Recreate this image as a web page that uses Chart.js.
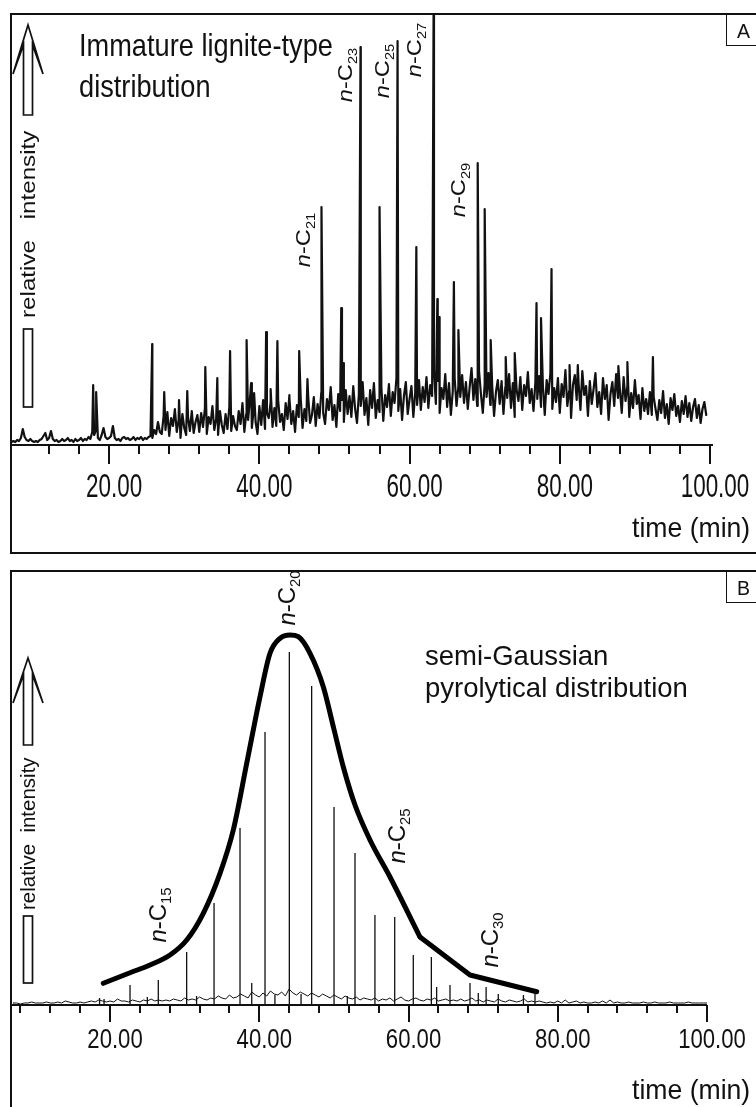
<!DOCTYPE html>
<html>
<head>
<meta charset="utf-8">
<script src="https://cdn.jsdelivr.net/npm/chart.js@4.4.1/dist/chart.umd.min.js"></script>
<style>
    html, body { margin: 0; padding: 0; background: #fff; }
    body { width: 756px; height: 1107px; position: relative; overflow: hidden; }
    canvas { position: absolute; left: 0; }
    #chartA { top: 0; }
    #chartB { top: 560px; }
    .frame { position: absolute; border: 2px solid #111; box-sizing: border-box; }
</style>
</head>
<body>
<canvas id="chartA" width="756" height="560"></canvas>
<canvas id="chartB" width="756" height="547"></canvas>
<div class="frame" style="left:10px; top:13px; width:770px; height:541px;"></div>
<div class="frame" style="left:10px; top:570px; width:770px; height:600px;"></div>

<script>
// ---- panel A: immature lignite-type distribution ----
const timeStartA = 7.0;
const timeStepA = 0.25;
const traceA = [
    2, 3, 2, 4, 3, 6, 15, 7, 4, 3, 5, 3, 2, 3, 2, 4, 5, 8, 11, 4,
    6, 13, 5, 3, 4, 2, 3, 5, 3, 4, 6, 3, 4, 2, 5, 3, 4, 6, 3, 5,
    4, 7, 5, 12, 9, 14, 6, 4, 9, 16, 7, 5, 6, 8, 18, 6, 4, 5, 3, 6,
    7, 5, 6, 4, 5, 7, 4, 6, 5, 7, 4, 6, 5, 7, 8, 6, 14, 10, 22, 12,
    10, 28, 14, 32, 8, 26, 18, 35, 12, 24, 6, 30, 16, 9, 27, 13, 33, 11, 22, 29,
    12, 31, 17, 36, 10, 27, 20, 38, 14, 25, 9, 33, 19, 11, 30, 15, 37, 13, 28, 18,
    14, 33, 20, 41, 12, 30, 24, 46, 16, 35, 22, 10, 38, 19, 44, 15, 31, 26, 42, 17,
    36, 18, 44, 22, 30, 14, 41, 25, 49, 20, 33, 12, 39, 27, 46, 16, 35, 23, 48, 21,
    29, 47, 18, 40, 26, 52, 31, 20, 45, 34, 57, 24, 39, 17, 50, 33, 44, 22, 54, 30,
    48, 27, 58, 35, 21, 50, 38, 62, 29, 46, 19, 54, 36, 61, 26, 44, 32, 56, 23, 49,
    37, 60, 28, 52, 41, 66, 33, 55, 24, 48, 62, 30, 45, 58, 27, 51, 39, 64, 34, 57,
    42, 67, 36, 59, 48, 74, 40, 63, 31, 56, 45, 70, 37, 61, 29, 53, 66, 38, 58, 47,
    69, 41, 62, 35, 57, 76, 44, 65, 38, 73, 50, 31, 60, 47, 71, 39, 58, 28, 52, 64,
    40, 63, 30, 57, 46, 70, 36, 61, 27, 54, 43, 67, 34, 59, 48, 72, 41, 55, 33, 62,
    45, 68, 37, 58, 29, 64, 50, 71, 35, 56, 42, 66, 31, 60, 47, 74, 38, 53, 26, 59,
    69, 44, 61, 34, 73, 49, 58, 28, 63, 40, 55, 71, 37, 52, 30, 66, 45, 59, 24, 50,
    62, 38, 70, 46, 55, 31, 67, 43, 58, 27, 51, 36, 64, 40, 49, 25, 56, 33, 45, 30,
    52, 29, 47, 35, 24, 44, 31, 53, 26, 40, 20, 46, 34, 50, 28, 38, 22, 43, 30, 48,
    27, 41, 23, 37, 45, 26, 39, 21, 35, 42, 29
];
const peakTimesA = [17.87, 18.27, 25.73, 27.33, 29.3, 30.4, 32.8, 34.4, 36.1, 38.3, 38.9, 39.3,
    40.9, 41.5, 42.4, 44.0, 45.3, 46.4, 48.27, 50.9, 51.2, 53.47, 56.0, 58.4, 60.9, 63.2, 63.7,
    63.95, 65.9, 66.5, 69.07, 70.0, 70.8, 72.8, 74.0, 76.9, 77.5, 78.9, 81.3, 82.4, 87.8, 89.0, 92.4];
const peakHeightsA = [59, 52, 100, 52, 44, 53, 77, 66, 93, 104, 61, 51,
    112, 55, 103, 46, 93, 65, 237, 136, 81, 397, 237, 403, 197, 440, 145,
    127, 162, 114, 281, 235, 104, 87, 91, 141, 126, 175, 79, 79, 78, 82, 87];
const majorTicksA = [20, 40, 60, 80, 100];
const minorTicksA = [12, 16, 24, 28, 32, 36, 44, 48, 52, 56, 64, 68, 72, 76, 84, 88, 92, 96];

// ---- panel B: semi-Gaussian pyrolytical distribution ----
const timeStartB = 7.0;
const timeStepB = 0.5;
const traceB = [
    1, 1, 0, 1, 1, 2, 1, 1, 1, 2, 1, 1, 2, 1, 3, 2, 1, 1, 2, 1,
    2, 3, 2, 4, 3, 2, 3, 2, 5, 3, 3, 2, 4, 3, 2, 4, 3, 5, 3, 4,
    3, 4, 3, 5, 4, 3, 6, 4, 5, 4, 7, 5, 4, 6, 5, 8, 6, 5, 9, 6,
    7, 10, 8, 6, 12, 9, 7, 11, 8, 13, 10, 9, 12, 8, 15, 11, 9, 12, 10, 8,
    11, 9, 7, 10, 8, 6, 9, 7, 5, 8, 6, 5, 7, 4, 6, 5, 4, 6, 3, 5,
    4, 6, 3, 5, 7, 4, 3, 5, 6, 4, 3, 5, 4, 6, 3, 4, 5, 3, 4, 3,
    5, 3, 4, 6, 3, 4, 2, 4, 3, 2, 5, 3, 2, 4, 3, 2, 3, 5, 2, 3,
    2, 3, 2, 1, 2, 1, 3, 1, 4, 1, 2, 3, 1, 2, 1, 1, 2, 1, 3, 1,
    4, 1, 2, 1, 1, 2, 1, 1, 1, 2, 1, 1, 2, 1, 1, 1, 2, 1, 1, 1,
    1, 2, 1, 1, 1, 1, 1
];
const peakTimesB = [18.6, 19.2, 22.68, 25.0, 26.47, 30.27, 31.6, 33.94, 37.42, 38.99, 40.77, 42.1,
    44.03, 45.6, 47.02, 50.02, 51.8, 52.83, 55.5, 58.15, 60.64, 63.06, 63.77, 65.56, 68.24,
    69.35, 70.4, 72.03, 75.4, 76.95];
const peakHeightsB = [6, 5, 19, 7, 24, 52, 8, 101, 176, 21, 272, 9,
    352, 10, 318, 197, 8, 151, 89, 87, 49, 47, 17, 19, 21,
    11, 17, 10, 9, 14];
// hand-drawn envelope over the n-alkane peaks
const envTimesB = [19.1, 22.68, 25.36, 28.04, 30.28, 32.5, 34.74, 36.52, 38.32, 40.1, 41.44, 42.78,
    44.12, 45.23, 46.8, 48.58, 50.0, 51.3, 52.83, 54.84, 57.52, 61.54];
const envLevelsB = [20.7, 31.3, 39, 49, 64, 90.7, 130.7, 174, 240.7, 307.3, 350.7, 365.7,
    369, 367.3, 350.7, 317.3, 275, 236, 199, 164, 127, 67];
const tailTimesB = [61.54, 68.24, 77.18];
const tailLevelsB = [67, 29, 12.3];
const majorTicksB = [20, 40, 60, 80, 100];
const minorTicksB = [8, 12, 16, 24, 28, 32, 36, 44, 48, 52, 56, 64, 68, 72, 76, 84, 88, 92, 96];

const FONT = '"Liberation Sans", Arial, sans-serif';
const INK = '#111';

// draws a run of text parts (italic / subscript) with optional rotation and squeeze
function drawParts(ctx, parts, x, y, o) {
    ctx.save();
    ctx.translate(x, y);
    if (o.rot) ctx.rotate(o.rot);
    ctx.scale(o.sx || 1, o.sy || 1);
    const F = o.size;
    let w = 0;
    const fonts = parts.map(p => {
        const f = (p.italic ? 'italic ' : '') + (p.sub ? F * 0.62 : F).toFixed(1) + 'px ' + FONT;
        ctx.font = f;
        const pw = ctx.measureText(p.t).width;
        w += pw;
        return [f, pw];
    });
    let cx = o.align === 'center' ? -w / 2 : (o.align === 'right' ? -w : 0);
    const dy = o.middle ? F * 0.36 : 0;
    ctx.fillStyle = INK;
    ctx.textAlign = 'left';
    ctx.textBaseline = 'alphabetic';
    parts.forEach((p, i) => {
        ctx.font = fonts[i][0];
        ctx.fillText(p.t, cx, dy + (p.sub ? F * 0.24 : 0));
        cx += fonts[i][1];
    });
    ctx.restore();
}

function text(ctx, str, x, y, o) {
    drawParts(ctx, [{ t: str }], x, y, o);
}

function alkane(ctx, num, x, y, size, along) {
    drawParts(ctx, [{ t: 'n', italic: true }, { t: '-C' }, { t: String(num), sub: true }], x, y,
        { size: size, rot: -Math.PI / 2, sx: along, align: 'center', middle: true });
}

// open block arrow with the axis caption between shaft and tail
function intensityArrow(ctx, a) {
    const cx = a.cx, hw = 4.5;
    ctx.save();
    ctx.strokeStyle = INK;
    ctx.lineWidth = 1.7;
    ctx.lineJoin = 'miter';
    ctx.beginPath();
    ctx.moveTo(cx, a.tip);
    ctx.lineTo(cx + 15, a.barb);
    ctx.lineTo(cx + hw, a.notch);
    ctx.lineTo(cx + hw, a.shaftEnd);
    ctx.lineTo(cx - hw, a.shaftEnd);
    ctx.lineTo(cx - hw, a.notch);
    ctx.lineTo(cx - 15, a.barb);
    ctx.closePath();
    ctx.stroke();
    ctx.strokeRect(cx - hw, a.tailTop, hw * 2, a.tailBottom - a.tailTop);
    ctx.restore();
    text(ctx, 'intensity', cx, a.word1, { size: 20.5, rot: -Math.PI / 2, sx: a.along, align: 'center', middle: true });
    text(ctx, 'relative', cx, a.word2, { size: 20.5, rot: -Math.PI / 2, sx: a.along, align: 'center', middle: true });
}

function timeAxis(ctx, chart, s) {
    const xs = chart.scales.x, area = chart.chartArea;
    const y0 = area.bottom + 1;
    ctx.save();
    ctx.strokeStyle = INK;
    ctx.lineWidth = 2;
    ctx.beginPath();
    ctx.moveTo(area.left, y0);
    ctx.lineTo(area.right, y0);
    s.minor.forEach(v => {
        const px = Math.round(xs.getPixelForValue(v));
        ctx.moveTo(px, y0);
        ctx.lineTo(px, y0 + s.minorLen);
    });
    s.major.forEach(v => {
        const px = Math.round(xs.getPixelForValue(v));
        ctx.moveTo(px, y0);
        ctx.lineTo(px, y0 + s.majorLen);
    });
    ctx.stroke();
    ctx.restore();
    s.major.forEach(v => {
        text(ctx, v.toFixed(2), xs.getPixelForValue(v) + 5, s.labelY, { size: s.labelSize, sx: s.labelSx, align: 'center' });
    });
    text(ctx, 'time (min)', 632, s.titleY, { size: 28, sx: 0.95 });
}

function tagBox(ctx, letter, top) {
    ctx.save();
    ctx.strokeStyle = INK;
    ctx.lineWidth = 1;
    ctx.strokeRect(726.5, top + 0.5, 40, 31);
    ctx.restore();
    text(ctx, letter, 737, top + 24, { size: 19.5 });
}

const decorA = {
    id: 'decorA',
    afterDraw(chart) {
        const ctx = chart.ctx;
        timeAxis(ctx, chart, { major: majorTicksA, minor: minorTicksA, majorLen: 19, minorLen: 9,
            labelY: 497, labelSize: 33, labelSx: 0.68, titleY: 537 });
        intensityArrow(ctx, { cx: 28, tip: 25, barb: 74, notch: 45, shaftEnd: 115,
            tailTop: 329, tailBottom: 407, word1: 175, word2: 279, along: 1.18 });
        text(ctx, 'Immature lignite-type', 79, 56, { size: 32, sx: 0.85 });
        text(ctx, 'distribution', 79, 97, { size: 32, sx: 0.85 });
        alkane(ctx, 21, 303, 240, 20, 1.18);
        alkane(ctx, 23, 345, 75, 20, 1.18);
        alkane(ctx, 25, 382, 71, 20, 1.18);
        alkane(ctx, 27, 414, 50, 20, 1.18);
        alkane(ctx, 29, 458, 190, 20, 1.18);
        tagBox(ctx, 'A', 14);
    }
};

const decorB = {
    id: 'decorB',
    afterDraw(chart) {
        const ctx = chart.ctx;
        timeAxis(ctx, chart, { major: majorTicksB, minor: minorTicksB, majorLen: 17, minorLen: 8,
            labelY: 488, labelSize: 28, labelSx: 0.79, titleY: 539 });
        intensityArrow(ctx, { cx: 28, tip: 98, barb: 143, notch: 115, shaftEnd: 185,
            tailTop: 356, tailBottom: 423, word1: 235, word2: 317, along: 1 });
        text(ctx, 'semi-Gaussian', 425, 105, { size: 27.5 });
        text(ctx, 'pyrolytical distribution', 425, 137, { size: 27.5 });
        alkane(ctx, 20, 286, 38, 24, 1);
        alkane(ctx, 15, 157, 355, 24, 1);
        alkane(ctx, 25, 396, 276, 24, 1);
        alkane(ctx, 30, 489, 380, 24, 1);
        tagBox(ctx, 'B', 11);
    }
};

// ---- build datasets ----
const pointsA = traceA.map((v, i) => ({ x: timeStartA + i * timeStepA, y: v }))
    .concat(peakTimesA.map((t, i) => ({ x: t, y: peakHeightsA[i] })))
    .sort((a, b) => a.x - b.x);

const pointsB = traceB.map((v, i) => ({ x: timeStartB + i * timeStepB, y: v }));
const spikesB = [];
peakTimesB.forEach((t, i) => {
    spikesB.push({ x: t, y: 0 }, { x: t, y: peakHeightsB[i] }, { x: t, y: null });
});
const envB = envTimesB.map((t, i) => ({ x: t, y: envLevelsB[i] }));
const tailB = tailTimesB.map((t, i) => ({ x: t, y: tailLevelsB[i] }));

const baseOptions = (padding, xMin, xMax, yMax) => ({
    responsive: false,
    animation: false,
    events: [],
    layout: { padding: padding },
    plugins: { legend: { display: false }, tooltip: { enabled: false } },
    elements: { point: { radius: 0 }, line: { borderJoinStyle: 'round', borderCapStyle: 'round' } },
    scales: {
        x: { type: 'linear', min: xMin, max: xMax, display: false },
        y: { type: 'linear', min: 0, max: yMax, display: false }
    }
});

new Chart(document.getElementById('chartA'), {
    type: 'line',
    data: {
        datasets: [{ data: pointsA, borderColor: INK, borderWidth: 2.2, tension: 0 }]
    },
    options: baseOptions({ left: 11, right: 43, top: 14, bottom: 116 }, 6.93, 100.4, 430),
    plugins: [decorA]
});

new Chart(document.getElementById('chartB'), {
    type: 'line',
    data: {
        datasets: [
            { data: pointsB, borderColor: INK, borderWidth: 1, tension: 0 },
            { data: spikesB, borderColor: INK, borderWidth: 1.3, tension: 0, spanGaps: false, borderCapStyle: 'butt' },
            { data: envB, borderColor: '#000', borderWidth: 5, cubicInterpolationMode: 'monotone' },
            { data: tailB, borderColor: '#000', borderWidth: 5, tension: 0 }
        ]
    },
    options: baseOptions({ left: 11, right: 49, top: 12, bottom: 103 }, 6.73, 100, 432),
    plugins: [decorB]
});
</script>
</body>
</html>
